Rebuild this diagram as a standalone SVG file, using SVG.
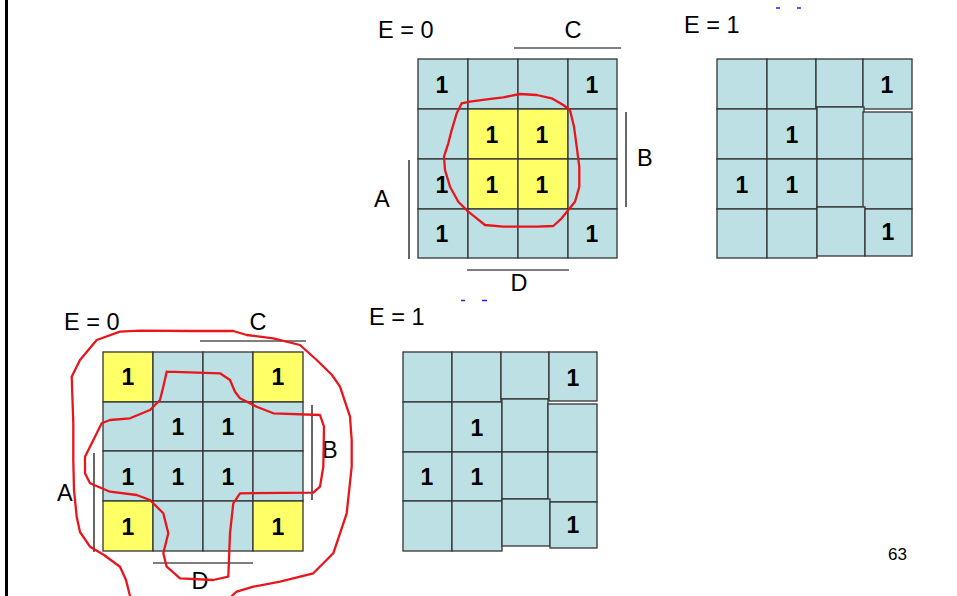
<svg xmlns="http://www.w3.org/2000/svg" width="957" height="596" viewBox="0 0 957 596">
<style>
.c{fill:#bce0e3;stroke:#333;stroke-width:1.3}
.y{fill:#ffff66;stroke:#333;stroke-width:1.3}
.o{font-family:"Liberation Sans",Arial,sans-serif;font-weight:bold;font-size:23px;fill:#000;text-anchor:middle}
.l{font-family:"Liberation Sans",Arial,sans-serif;font-size:23.5px;fill:#000}
.m{font-family:"Liberation Sans",Arial,sans-serif;font-size:23.5px;fill:#000;text-anchor:middle}
.bar{stroke:#000;stroke-width:1.2;fill:none}
.r{fill:none;stroke:#e8161c;stroke-width:2.3;stroke-linejoin:round;stroke-linecap:round}
.dash{stroke:#2020ff;stroke-width:1.5}
</style>
<rect x="5" y="0" width="3" height="596" fill="#000"/>

<g id="map-top-e0">
<rect class="c" x="418" y="59" width="50" height="50"/><rect class="c" x="468" y="59" width="50" height="50"/><rect class="c" x="518" y="59" width="50" height="50"/><rect class="c" x="568" y="59" width="49" height="50"/>
<rect class="c" x="418" y="109" width="50" height="50"/><rect class="y" x="468" y="109" width="50" height="50"/><rect class="y" x="518" y="109" width="50" height="50"/><rect class="c" x="568" y="109" width="49" height="50"/>
<rect class="c" x="418" y="159" width="50" height="50"/><rect class="y" x="468" y="159" width="50" height="50"/><rect class="y" x="518" y="159" width="50" height="50"/><rect class="c" x="568" y="159" width="49" height="50"/>
<rect class="c" x="418" y="209" width="50" height="49"/><rect class="c" x="468" y="209" width="50" height="49"/><rect class="c" x="518" y="209" width="50" height="49"/><rect class="c" x="568" y="209" width="49" height="49"/>
<text class="o" x="442" y="93">1</text><text class="o" x="592" y="93">1</text>
<text class="o" x="492" y="143">1</text><text class="o" x="542" y="143">1</text>
<text class="o" x="442" y="193">1</text><text class="o" x="492" y="193">1</text><text class="o" x="542" y="193">1</text>
<text class="o" x="442" y="242">1</text><text class="o" x="592" y="242">1</text>
<text class="l" x="378" y="38">E = 0</text>
<text class="m" x="573" y="38">C</text>
<text class="l" x="637" y="166">B</text>
<text class="l" x="374" y="207">A</text>
<text class="m" x="519" y="291">D</text>
</g>

<g id="map-top-e1">
<rect class="c" x="717" y="59" width="50" height="50"/><rect class="c" x="767" y="59" width="49" height="50"/><rect class="c" x="816" y="59" width="47" height="48"/><rect class="c" x="863" y="59" width="49" height="50"/>
<rect class="c" x="717" y="109" width="50" height="50"/><rect class="c" x="767" y="109" width="50" height="50"/><rect class="c" x="817" y="107" width="47" height="52"/><rect class="c" x="863" y="112" width="49" height="47"/>
<rect class="c" x="717" y="159" width="50" height="50"/><rect class="c" x="767" y="159" width="50" height="50"/><rect class="c" x="817" y="159" width="47" height="48"/><rect class="c" x="863" y="159" width="49" height="50"/>
<rect class="c" x="717" y="209" width="50" height="49"/><rect class="c" x="767" y="209" width="50" height="49"/><rect class="c" x="817" y="207" width="48" height="49"/><rect class="c" x="865" y="209" width="47" height="47"/>
<text class="o" x="887" y="93">1</text>
<text class="o" x="792" y="143">1</text>
<text class="o" x="742" y="193">1</text><text class="o" x="792" y="193">1</text>
<text class="o" x="888" y="240">1</text>
<text class="l" x="684" y="33">E = 1</text>
</g>

<g id="map-bottom-e0">
<rect class="y" x="103" y="352" width="50" height="50"/><rect class="c" x="153" y="352" width="50" height="50"/><rect class="c" x="203" y="352" width="50" height="50"/><rect class="y" x="253" y="352" width="50" height="50"/>
<rect class="c" x="103" y="402" width="50" height="49"/><rect class="c" x="153" y="402" width="50" height="49"/><rect class="c" x="203" y="402" width="50" height="49"/><rect class="c" x="253" y="402" width="50" height="49"/>
<rect class="c" x="103" y="451" width="50" height="50"/><rect class="c" x="153" y="451" width="50" height="50"/><rect class="c" x="203" y="451" width="50" height="50"/><rect class="c" x="253" y="451" width="50" height="50"/>
<rect class="y" x="103" y="501" width="50" height="50"/><rect class="c" x="153" y="501" width="50" height="50"/><rect class="c" x="203" y="501" width="50" height="50"/><rect class="y" x="253" y="501" width="50" height="50"/>
<text class="o" x="128" y="385">1</text><text class="o" x="278" y="385">1</text>
<text class="o" x="178" y="435">1</text><text class="o" x="228" y="435">1</text>
<text class="o" x="128" y="485">1</text><text class="o" x="178" y="485">1</text><text class="o" x="228" y="485">1</text>
<text class="o" x="128" y="535">1</text><text class="o" x="278" y="535">1</text>
<text class="l" x="64" y="330">E = 0</text>
<text class="m" x="258" y="330">C</text>
<text class="l" x="322" y="458">B</text>
<text class="l" x="57" y="501">A</text>
<text class="m" x="200" y="589">D</text>
</g>

<g id="map-bottom-e1">
<rect class="c" x="403" y="352" width="49" height="50"/><rect class="c" x="452" y="352" width="49" height="50"/><rect class="c" x="501" y="352" width="48" height="47"/><rect class="c" x="549" y="352" width="48" height="49"/>
<rect class="c" x="403" y="402" width="49" height="50"/><rect class="c" x="452" y="402" width="50" height="50"/><rect class="c" x="502" y="399" width="46" height="53"/><rect class="c" x="548" y="404" width="49" height="48"/>
<rect class="c" x="403" y="452" width="49" height="49"/><rect class="c" x="452" y="452" width="50" height="49"/><rect class="c" x="502" y="452" width="46" height="47"/><rect class="c" x="548" y="452" width="49" height="50"/>
<rect class="c" x="403" y="501" width="49" height="50"/><rect class="c" x="452" y="501" width="50" height="50"/><rect class="c" x="502" y="499" width="48" height="47"/><rect class="c" x="550" y="502" width="47" height="46"/>
<text class="o" x="573" y="386">1</text>
<text class="o" x="477" y="436">1</text>
<text class="o" x="427" y="485">1</text><text class="o" x="477" y="485">1</text>
<text class="o" x="573" y="533">1</text>
<text class="l" x="369" y="325">E = 1</text>
</g>

<g id="connectors">
<line class="bar" x1="514" y1="48" x2="621" y2="48"/>
<line class="bar" x1="626" y1="112" x2="626" y2="207"/>
<line class="bar" x1="409" y1="160" x2="409" y2="259"/>
<line class="bar" x1="467" y1="270" x2="569" y2="270"/>
<line class="bar" x1="200" y1="341" x2="306" y2="341"/>
<line class="bar" x1="312" y1="405" x2="312" y2="500"/>
<line class="bar" x1="94" y1="453" x2="94" y2="552"/>
<line class="bar" x1="153" y1="563" x2="253" y2="563"/>
<polyline class="r" points="461.7,103.3 470,101.7 486.7,99.3 503.3,97.3 520,94 536.7,95 551.7,98.3 563.3,105 570,110 574,126.7 576.7,146.7 579.3,166.7 579.3,186.7 575,201.7 568.3,210 561.7,218.3 553.3,226 536.7,226.7 503.3,226.7 485,225 476.7,218.3 468.3,211.7 458.3,201.7 450,186.7 445,170 444,156.7 448.3,143.3 451.7,130 456.7,113.3 461.7,103.3"/>
<polyline class="r" points="130,596 126,580 120,566.7 104,555 90,546.7 80,532 76.7,516.7 74,490 73.3,460 73.3,423.3 72.5,400 71.7,376.7 80,360 96.7,340 120,331.7 140,330.7 190,331 233.3,331 246.7,335 273.3,338.3 300,345 316.7,360 332,375 340,386.7 350,416.7 351.7,440 351.7,466.7 346.7,513.3 333.3,553.3 313.3,573.3 280,581.7 253.3,586.7 236.7,591.7 231.7,596"/>
<polyline class="r" points="166.7,371.7 220,373.3 230,380 235,391.7 240,398.3 256.7,406.7 273.3,413.3 320,415 324,426.7 323.3,466.7 320,486.7 313.3,492.7 240,493.3 233.3,503.3 230,533.3 228.3,576.7 213.3,580 180,578.3 166.7,566.7 163.3,553.3 168.3,533.3 163.3,513.3 150,500 136.7,495 110,491.7 90,483.3 85,473.3 85,456.7 90,446.7 101.7,423.3 110,420 130,418.3 150,410 160,400 163.3,386.7 166.7,371.7"/>
</g>

<line class="dash" x1="776" y1="8" x2="780" y2="8"/>
<line class="dash" x1="797" y1="8" x2="801" y2="8"/>
<line class="dash" x1="461" y1="300.5" x2="465" y2="300.5"/>
<line class="dash" x1="482" y1="300.5" x2="487" y2="300.5"/>
<text x="888" y="560" font-family="Liberation Sans, Arial, sans-serif" font-size="17" fill="#000">63</text>
</svg>
